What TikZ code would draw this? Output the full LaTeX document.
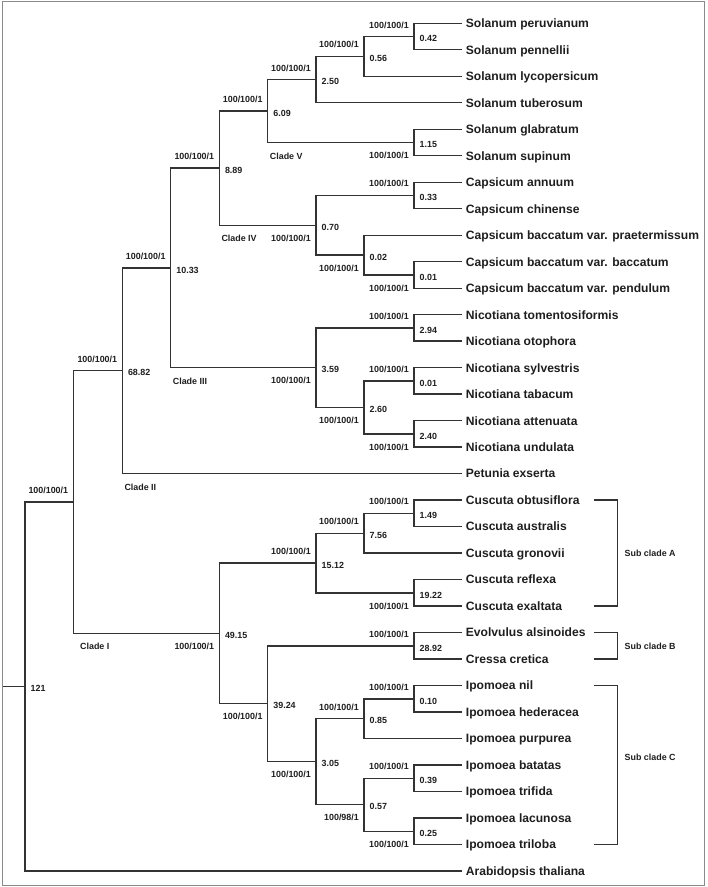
\documentclass[tikz,border=0pt]{standalone}
\usepackage{fontspec}
\setmainfont{Liberation Sans}
\definecolor{branch}{HTML}{333333}
\definecolor{framegray}{HTML}{8A8A8A}
\definecolor{inkgray}{HTML}{1E1E1E}
\tikzset{
  taxon/.style={anchor=west, inner xsep=4pt, inner ysep=0pt, text height=8.7pt, text depth=0pt, text=inkgray, font=\fontsize{12.1}{14}\selectfont\bfseries},
  small/.style={inner sep=0pt, text=inkgray, font=\fontsize{8.9}{10}\selectfont\bfseries},
  supup/.style={small, anchor=base east, shift={(-5pt,8.5pt)}},
  supdn/.style={small, anchor=base east, shift={(-5pt,-16.2pt)}},
  age/.style={small, anchor=base west, shift={(5.5pt,-5.2pt)}},
  cladelab/.style={small, anchor=base west, shift={(2pt,-16.5pt)}},
  sublab/.style={small, anchor=west},
  branchline/.style={draw=branch, line width=1.4pt},
}
\begin{document}
\begin{tikzpicture}[x=1pt,y=-1pt]
\useasboundingbox (0,0) rectangle (708,887);
\draw[framegray, line width=1pt] (2,1.5) rectangle (704.5,885.5);
% taxa
\node[taxon] (spe) at (461.7,23.30) {Solanum peruvianum};
\node[taxon] (spn) at (461.7,49.79) {Solanum pennellii};
\node[taxon] (sly) at (461.7,76.28) {Solanum lycopersicum};
\node[taxon] (stu) at (461.7,102.77) {Solanum tuberosum};
\node[taxon] (sgl) at (461.7,129.26) {Solanum glabratum};
\node[taxon] (ssu) at (461.7,155.75) {Solanum supinum};
\node[taxon] (can) at (461.7,182.24) {Capsicum annuum};
\node[taxon] (cch) at (461.7,208.73) {Capsicum chinense};
\node[taxon] (cpr) at (461.7,235.22) {Capsicum baccatum var. praetermissum};
\node[taxon] (cbb) at (461.7,261.71) {Capsicum baccatum var. baccatum};
\node[taxon] (cbp) at (461.7,288.20) {Capsicum baccatum var. pendulum};
\node[taxon] (nto) at (461.7,314.69) {Nicotiana tomentosiformis};
\node[taxon] (not) at (461.7,341.18) {Nicotiana otophora};
\node[taxon] (nsy) at (461.7,367.67) {Nicotiana sylvestris};
\node[taxon] (nta) at (461.7,394.16) {Nicotiana tabacum};
\node[taxon] (nat) at (461.7,420.65) {Nicotiana attenuata};
\node[taxon] (nun) at (461.7,447.14) {Nicotiana undulata};
\node[taxon] (pex) at (461.7,473.63) {Petunia exserta};
\node[taxon] (cob) at (461.7,500.12) {Cuscuta obtusiflora};
\node[taxon] (cau) at (461.7,526.61) {Cuscuta australis};
\node[taxon] (cgr) at (461.7,553.10) {Cuscuta gronovii};
\node[taxon] (cre) at (461.7,579.59) {Cuscuta reflexa};
\node[taxon] (cex) at (461.7,606.08) {Cuscuta exaltata};
\node[taxon] (eal) at (461.7,632.57) {Evolvulus alsinoides};
\node[taxon] (ccr) at (461.7,659.06) {Cressa cretica};
\node[taxon] (ini) at (461.7,685.55) {Ipomoea nil};
\node[taxon] (ihe) at (461.7,712.04) {Ipomoea hederacea};
\node[taxon] (ipu) at (461.7,738.53) {Ipomoea purpurea};
\node[taxon] (iba) at (461.7,765.02) {Ipomoea batatas};
\node[taxon] (itr) at (461.7,791.51) {Ipomoea trifida};
\node[taxon] (ila) at (461.7,818.00) {Ipomoea lacunosa};
\node[taxon] (itl) at (461.7,844.49) {Ipomoea triloba};
\node[taxon] (ath) at (461.7,870.98) {Arabidopsis thaliana};
% internal nodes
\coordinate (n042) at (414,36.545);
\coordinate (n056) at (364,56.41);
\coordinate (n250) at (316,79.59);
\coordinate (n115) at (414,142.505);
\coordinate (n609) at (267.7,111.05);
\coordinate (n033) at (414,195.485);
\coordinate (n001) at (414,274.955);
\coordinate (n002) at (364,255.09);
\coordinate (n070) at (316,225.29);
\coordinate (n889) at (219.3,168.17);
\coordinate (n294) at (414,327.935);
\coordinate (nst) at (414,380.915);
\coordinate (n240) at (414,433.895);
\coordinate (n260) at (364,407.405);
\coordinate (n359) at (316,367.67);
\coordinate (n1033) at (170.7,267.92);
\coordinate (n6882) at (122.3,370.775);
\coordinate (n149) at (414,513.365);
\coordinate (n756) at (364,533.23);
\coordinate (n1922) at (414,592.835);
\coordinate (n1512) at (316,563.03);
\coordinate (n2892) at (414,645.815);
\coordinate (n010) at (414,698.795);
\coordinate (n085) at (364,718.66);
\coordinate (n039) at (414,778.265);
\coordinate (n025) at (414,831.245);
\coordinate (n057) at (364,804.755);
\coordinate (n305) at (316,761.71);
\coordinate (n3924) at (267.7,703.76);
\coordinate (n4915) at (219.3,633.40);
\coordinate (nA) at (73.3,502.09);
\coordinate (root) at (25,686.535);
\coordinate (stub) at (2.5,686.535);
% branches
\draw[branchline] (n042) |- (spe.west) (n042) |- (spn.west);
\draw[branchline] (n056) |- (n042) (n056) |- (sly.west);
\draw[branchline] (n250) |- (n056) (n250) |- (stu.west);
\draw[branchline] (n115) |- (sgl.west) (n115) |- (ssu.west);
\draw[branchline] (n609) |- (n250) (n609) |- (n115);
\draw[branchline] (n033) |- (can.west) (n033) |- (cch.west);
\draw[branchline] (n001) |- (cbb.west) (n001) |- (cbp.west);
\draw[branchline] (n002) |- (cpr.west) (n002) |- (n001);
\draw[branchline] (n070) |- (n033) (n070) |- (n002);
\draw[branchline] (n889) |- (n609) (n889) |- (n070);
\draw[branchline] (n294) |- (nto.west) (n294) |- (not.west);
\draw[branchline] (nst) |- (nsy.west) (nst) |- (nta.west);
\draw[branchline] (n240) |- (nat.west) (n240) |- (nun.west);
\draw[branchline] (n260) |- (nst) (n260) |- (n240);
\draw[branchline] (n359) |- (n294) (n359) |- (n260);
\draw[branchline] (n1033) |- (n889) (n1033) |- (n359);
\draw[branchline] (n6882) |- (n1033) (n6882) |- (pex.west);
\draw[branchline] (n149) |- (cob.west) (n149) |- (cau.west);
\draw[branchline] (n756) |- (n149) (n756) |- (cgr.west);
\draw[branchline] (n1922) |- (cre.west) (n1922) |- (cex.west);
\draw[branchline] (n1512) |- (n756) (n1512) |- (n1922);
\draw[branchline] (n2892) |- (eal.west) (n2892) |- (ccr.west);
\draw[branchline] (n010) |- (ini.west) (n010) |- (ihe.west);
\draw[branchline] (n085) |- (n010) (n085) |- (ipu.west);
\draw[branchline] (n039) |- (iba.west) (n039) |- (itr.west);
\draw[branchline] (n025) |- (ila.west) (n025) |- (itl.west);
\draw[branchline] (n057) |- (n039) (n057) |- (n025);
\draw[branchline] (n305) |- (n085) (n305) |- (n057);
\draw[branchline] (n3924) |- (n2892) (n3924) |- (n305);
\draw[branchline] (n4915) |- (n1512) (n4915) |- (n3924);
\draw[branchline] (nA) |- (n6882) (nA) |- (n4915);
\draw[branchline] (root) |- (nA) (root) |- (ath.west);
\draw[branchline] (stub) -- (root);
% support values
\node[supup] (s042) at (n042) {100/100/1};
\node[supup] (s056) at (n056) {100/100/1};
\node[supup] (s250) at (n250) {100/100/1};
\node[supdn] (s115) at (n115) {100/100/1};
\node[supup] (s609) at (n609) {100/100/1};
\node[supup] (s033) at (n033) {100/100/1};
\node[supdn] (s001) at (n001) {100/100/1};
\node[supdn] (s002) at (n002) {100/100/1};
\node[supdn] (s070) at (n070) {100/100/1};
\node[supup] (s889) at (n889) {100/100/1};
\node[supup] (s294) at (n294) {100/100/1};
\node[supup] (sst) at (nst) {100/100/1};
\node[supdn] (s240) at (n240) {100/100/1};
\node[supdn] (s260) at (n260) {100/100/1};
\node[supdn] (s359) at (n359) {100/100/1};
\node[supup] (s1033) at (n1033) {100/100/1};
\node[supup] (s6882) at (n6882) {100/100/1};
\node[supup] (s149) at (n149) {100/100/1};
\node[supup] (s756) at (n756) {100/100/1};
\node[supdn] (s1922) at (n1922) {100/100/1};
\node[supup] (s1512) at (n1512) {100/100/1};
\node[supup] (s2892) at (n2892) {100/100/1};
\node[supup] (s010) at (n010) {100/100/1};
\node[supup] (s085) at (n085) {100/100/1};
\node[supup] (s039) at (n039) {100/100/1};
\node[supdn] (s025) at (n025) {100/100/1};
\node[supdn] (s057) at (n057) {100/98/1};
\node[supdn] (s305) at (n305) {100/100/1};
\node[supdn] (s3924) at (n3924) {100/100/1};
\node[supdn] (s4915) at (n4915) {100/100/1};
\node[supup] (sA) at (nA) {100/100/1};
% divergence times
\node[age] (t042) at (n042) {0.42};
\node[age] (t056) at (n056) {0.56};
\node[age] (t250) at (n250) {2.50};
\node[age] (t115) at (n115) {1.15};
\node[age] (t609) at (n609) {6.09};
\node[age] (t033) at (n033) {0.33};
\node[age] (t001) at (n001) {0.01};
\node[age] (t002) at (n002) {0.02};
\node[age] (t070) at (n070) {0.70};
\node[age] (t889) at (n889) {8.89};
\node[age] (t294) at (n294) {2.94};
\node[age] (tst) at (nst) {0.01};
\node[age] (t240) at (n240) {2.40};
\node[age] (t260) at (n260) {2.60};
\node[age] (t359) at (n359) {3.59};
\node[age] (t1033) at (n1033) {10.33};
\node[age] (t6882) at (n6882) {68.82};
\node[age] (t149) at (n149) {1.49};
\node[age] (t756) at (n756) {7.56};
\node[age] (t1922) at (n1922) {19.22};
\node[age] (t1512) at (n1512) {15.12};
\node[age] (t2892) at (n2892) {28.92};
\node[age] (t010) at (n010) {0.10};
\node[age] (t085) at (n085) {0.85};
\node[age] (t039) at (n039) {0.39};
\node[age] (t025) at (n025) {0.25};
\node[age] (t057) at (n057) {0.57};
\node[age] (t305) at (n305) {3.05};
\node[age] (t3924) at (n3924) {39.24};
\node[age] (t4915) at (n4915) {49.15};
\node[age] (troot) at (root) {121};
% clades
\node[cladelab] (cl5) at (n609 |- n115) {Clade V};
\node[cladelab] (cl4) at (n889 |- n070) {Clade IV};
\node[cladelab] (cl3) at (n1033 |- n359) {Clade III};
\node[cladelab] (cl2) at (n6882 |- pex) {Clade II};
\node[cladelab, xshift=4.7pt] (cl1) at (nA |- n4915) {Clade I};
% sub clades
\coordinate (bA1) at (594,500.12);
\coordinate (bA2) at (594,606.08);
\coordinate (bB1) at (594,632.57);
\coordinate (bB2) at (594,659.06);
\coordinate (bC1) at (594,685.55);
\coordinate (bC2) at (594,844.49);
\draw[branchline] (bA1) -- ++(23.3,0) |- (bA2);
\draw[branchline] (bB1) -- ++(23.3,0) |- (bB2);
\draw[branchline] (bC1) -- ++(23.3,0) |- (bC2);
\node[sublab] (subA) at (624.5,553.3) {Sub clade A};
\node[sublab] (subB) at (624.5,646.5) {Sub clade B};
\node[sublab] (subC) at (624.5,757.3) {Sub clade C};
\end{tikzpicture}
\end{document}
